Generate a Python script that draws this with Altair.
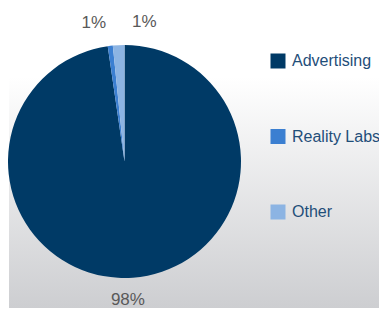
import altair as alt
import pandas as pd

categories = ["Advertising", "Reality Labs", "Other"]
values = [97.7, 0.7, 1.6]
labels = ["98%", "1%", "1%"]
colors = ["#003a66", "#3b7fd1", "#8cb4e3"]

df = pd.DataFrame({
    "category": categories,
    "value": values,
    "label": labels,
    "idx": list(range(len(categories))),
})

W, H = 371, 300
CX, CY = 115.5, 153.5
theta_scale = alt.Scale(domain=[0, float(sum(values))])

bg = alt.Chart(pd.DataFrame({"a": [0]})).mark_rect(
    color=alt.LinearGradient(
        gradient="linear",
        stops=[
            alt.GradientStop(color="#ffffff", offset=0),
            alt.GradientStop(color="#ffffff", offset=0.23),
            alt.GradientStop(color="#cdced1", offset=1),
        ],
        x1=0, x2=0, y1=0, y2=1,
    )
).encode(
    x=alt.value(0), x2=alt.value("width"),
    y=alt.value(0), y2=alt.value("height"),
)

pie = alt.Chart(df).mark_arc(radius=116.5).encode(
    theta=alt.Theta("value:Q", stack=True, scale=theta_scale),
    order=alt.Order("idx:Q"),
    x=alt.value(CX),
    y=alt.value(CY),
    color=alt.Color(
        "category:N",
        scale=alt.Scale(domain=categories, range=colors),
        sort=categories,
        legend=alt.Legend(title=None),
    ),
)

stacked = alt.Chart(df).transform_stack(
    stack="value", groupby=[], as_=["v0", "v1"], sort=[alt.SortField("idx", order="ascending")]
).transform_calculate(mid="(datum.v0 + datum.v1) / 2")

label_nudges = {"Advertising": (-7, -5.5), "Reality Labs": (-13, 4), "Other": (27, 4)}
text_layers = []
for cat in categories:
    ddx, ddy = label_nudges[cat]
    text_layers.append(
        stacked.transform_filter(alt.datum.category == cat).mark_text(
            radius=144, dx=ddx, dy=ddy, fontSize=17, font="Liberation Sans",
            color="#595959", baseline="middle", align="center",
        ).encode(
            theta=alt.Theta("mid:Q", stack=None, scale=theta_scale),
            x=alt.value(CX),
            y=alt.value(CY),
            text="label:N",
        )
    )

chart = alt.layer(bg, pie, *text_layers).properties(
    width=W, height=H,
    autosize=alt.AutoSizeParams(type="fit", contains="padding"),
    padding=0,
).configure_view(strokeWidth=0).configure_legend(
    orient="none", legendX=261, legendY=45,
    symbolType="square", symbolSize=225, symbolStrokeWidth=0,
    labelFontSize=16, labelFont="Liberation Sans", labelColor="#1f4e79",
    rowPadding=59.5, labelOffset=6, padding=0,
)

chart.save("out.html", embed_options={"renderer": "svg", "actions": False})
